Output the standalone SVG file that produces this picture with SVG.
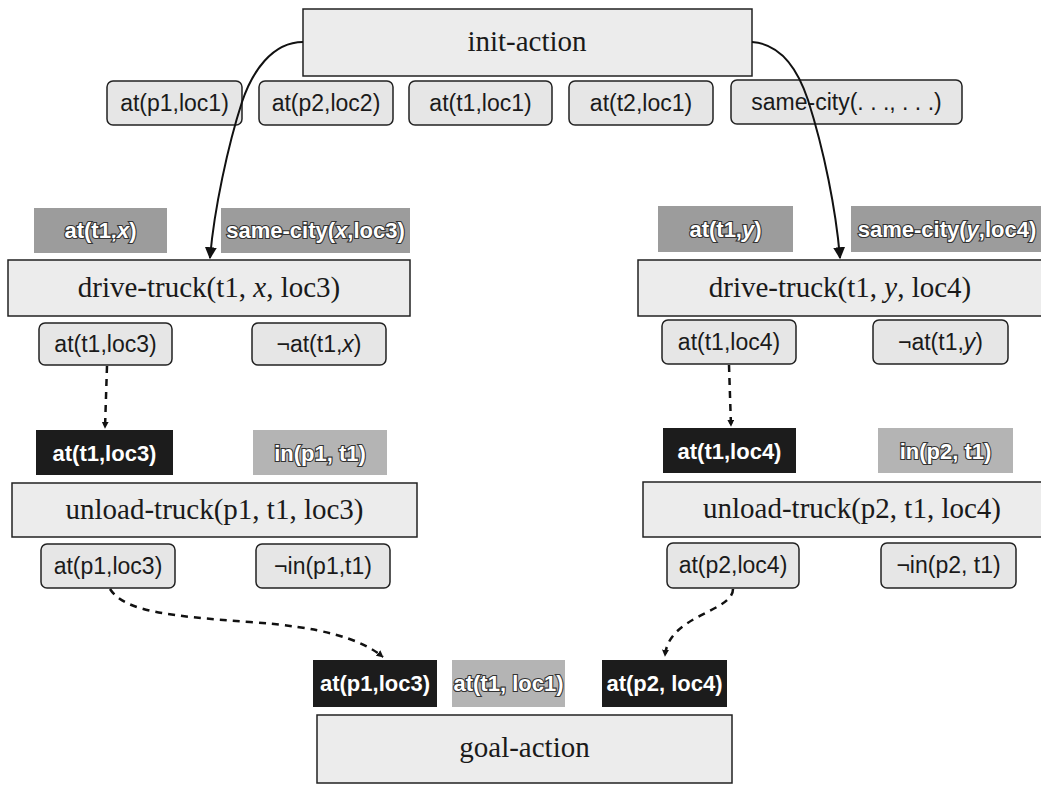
<svg xmlns="http://www.w3.org/2000/svg" width="1041" height="785" viewBox="0 0 1041 785">
<defs>
<marker id="ah" viewBox="0 0 10 10" refX="9" refY="5" markerWidth="7" markerHeight="7" orient="auto" markerUnits="userSpaceOnUse">
<path d="M0,0 L10,5 L0,10 z" fill="#111"/>
</marker>
<marker id="ahs" viewBox="0 0 10 10" refX="9" refY="5" markerWidth="12" markerHeight="12" orient="auto" markerUnits="userSpaceOnUse">
<path d="M0,0 L10,5 L0,10 z" fill="#111"/>
</marker>
</defs>
<style>
.act{fill:#ececec;stroke:#222;stroke-width:1.5}
.pill{fill:#e6e6e6;stroke:#222;stroke-width:1.5}
.g1{fill:#9c9c9c}
.g2{fill:#b4b4b4}
.blk{fill:#1c1c1c}
.st{font-family:"Liberation Serif",serif;font-size:29px;fill:#1a1a1a;text-anchor:middle}
.pt{font-family:"Liberation Sans",sans-serif;font-size:23px;fill:#1a1a1a;text-anchor:middle}
.wt{font-family:"Liberation Sans",sans-serif;font-size:22px;font-weight:bold;fill:#fff;stroke:#333;stroke-width:2.2px;paint-order:stroke;text-anchor:middle}
.bt{font-family:"Liberation Sans",sans-serif;font-size:22px;font-weight:bold;fill:#fff;text-anchor:middle}
.sol{fill:none;stroke:#111;stroke-width:2}
.dsh{fill:none;stroke:#111;stroke-width:2.5;stroke-dasharray:7,6}
</style>
<g id="init-action"><rect class="act" x="303" y="9" width="449" height="67"/><text class="st" x="527" y="51">init-action</text></g>
<g id="init-eff1"><rect class="pill" x="107" y="81" width="135" height="44" rx="6"/><text class="pt" x="174.5" y="111">at(p1,loc1)</text></g>
<g id="init-eff2"><rect class="pill" x="259" y="81" width="134" height="44" rx="6"/><text class="pt" x="326" y="111">at(p2,loc2)</text></g>
<g id="init-eff3"><rect class="pill" x="409" y="81" width="143" height="44" rx="6"/><text class="pt" x="480.5" y="111">at(t1,loc1)</text></g>
<g id="init-eff4"><rect class="pill" x="569" y="81" width="144" height="44" rx="6"/><text class="pt" x="641" y="111">at(t2,loc1)</text></g>
<g id="init-eff5"><rect class="pill" x="731" y="80" width="231" height="44" rx="6"/><text class="pt" x="846.5" y="110">same-city(. . ., . . .)</text></g>

<g id="drive-left-pre1"><rect class="g1" x="34" y="208" width="133" height="45"/><text class="wt" x="100.5" y="238">at(t1,<tspan font-style="italic">x</tspan>)</text></g>
<g id="drive-left-pre2"><rect class="g1" x="221" y="208" width="189" height="45"/><text class="wt" x="315.5" y="238" font-size="21">same-city(<tspan font-style="italic">x</tspan>,loc3)</text></g>
<g id="drive-left"><rect class="act" x="8" y="260" width="402" height="56"/><text class="st" x="209" y="297">drive-truck(t1, <tspan font-style="italic">x</tspan>, loc3)</text></g>
<g id="drive-left-eff1"><rect class="pill" x="39" y="323" width="133" height="42" rx="6"/><text class="pt" x="105.5" y="352">at(t1,loc3)</text></g>
<g id="drive-left-eff2"><rect class="pill" x="252" y="323" width="134" height="42" rx="6"/><text class="pt" x="319" y="352">¬at(t1,<tspan font-style="italic">x</tspan>)</text></g>

<g id="unload-left-pre1"><rect class="blk" x="36" y="430" width="137" height="45"/><text class="bt" x="104.5" y="461">at(t1,loc3)</text></g>
<g id="unload-left-pre2"><rect class="g2" x="253" y="430" width="134" height="45"/><text class="wt" x="320" y="461">in(p1, t1)</text></g>
<g id="unload-left"><rect class="act" x="12" y="483" width="405" height="54"/><text class="st" x="214.5" y="519">unload-truck(p1, t1, loc3)</text></g>
<g id="unload-left-eff1"><rect class="pill" x="41" y="544" width="134" height="44" rx="6"/><text class="pt" x="108" y="574">at(p1,loc3)</text></g>
<g id="unload-left-eff2"><rect class="pill" x="256" y="544" width="134" height="44" rx="6"/><text class="pt" x="323" y="574">¬in(p1,t1)</text></g>

<g id="drive-right-pre1"><rect class="g1" x="658" y="206" width="135" height="46"/><text class="wt" x="725.5" y="237">at(t1,<tspan font-style="italic">y</tspan>)</text></g>
<g id="drive-right-pre2"><rect class="g1" x="851" y="206" width="194" height="46"/><text class="wt" x="947" y="237" font-size="21">same-city(<tspan font-style="italic">y</tspan>,loc4)</text></g>
<g id="drive-right"><rect class="act" x="638" y="260" width="410" height="56"/><text class="st" x="840" y="297">drive-truck(t1, <tspan font-style="italic">y</tspan>, loc4)</text></g>
<g id="drive-right-eff1"><rect class="pill" x="662" y="320" width="134" height="44" rx="6"/><text class="pt" x="729" y="350">at(t1,loc4)</text></g>
<g id="drive-right-eff2"><rect class="pill" x="873" y="320" width="135" height="44" rx="6"/><text class="pt" x="940.5" y="350">¬at(t1,<tspan font-style="italic">y</tspan>)</text></g>

<g id="unload-right-pre1"><rect class="blk" x="663" y="428" width="133" height="45"/><text class="bt" x="729.5" y="459">at(t1,loc4)</text></g>
<g id="unload-right-pre2"><rect class="g2" x="878" y="428" width="135" height="45"/><text class="wt" x="945.5" y="459">in(p2, t1)</text></g>
<g id="unload-right"><rect class="act" x="643" y="482" width="405" height="55"/><text class="st" x="852" y="518">unload-truck(p2, t1, loc4)</text></g>
<g id="unload-right-eff1"><rect class="pill" x="667" y="543" width="132" height="45" rx="6"/><text class="pt" x="733" y="573">at(p2,loc4)</text></g>
<g id="unload-right-eff2"><rect class="pill" x="881" y="543" width="135" height="45" rx="6"/><text class="pt" x="948.5" y="573">¬in(p2, t1)</text></g>

<g id="goal-pre1"><rect class="blk" x="313" y="660" width="124" height="47"/><text class="bt" x="375" y="691">at(p1,loc3)</text></g>
<g id="goal-pre2"><rect class="g2" x="452" y="660" width="113" height="47"/><text class="wt" x="508.5" y="691" font-size="20">at(t1, loc1)</text></g>
<g id="goal-pre3"><rect class="blk" x="602" y="660" width="125" height="47"/><text class="bt" x="664.5" y="691">at(p2, loc4)</text></g>
<g id="goal-action"><rect class="act" x="317" y="715" width="415" height="68"/><text class="st" x="524.5" y="757">goal-action</text></g>

<g id="connectors">
<path class="sol" d="M303,42 C272,42 252,72 242,102 C228,145 214,210 210,258" marker-end="url(#ahs)"/>
<path class="sol" d="M752,42 C782,44 798,70 808,100 C824,150 836,210 840,258" marker-end="url(#ahs)"/>
<path class="dsh" d="M107,366 L105,428" marker-end="url(#ah)"/>
<path class="dsh" d="M729,365 L731,426" marker-end="url(#ah)"/>
<path class="dsh" d="M110,589 C125,612 170,616 250,622 C320,627 360,638 383,657" marker-end="url(#ah)"/>
<path class="dsh" d="M733,589 C733,612 668,615 665,656" marker-end="url(#ah)"/>
</g>
</svg>
